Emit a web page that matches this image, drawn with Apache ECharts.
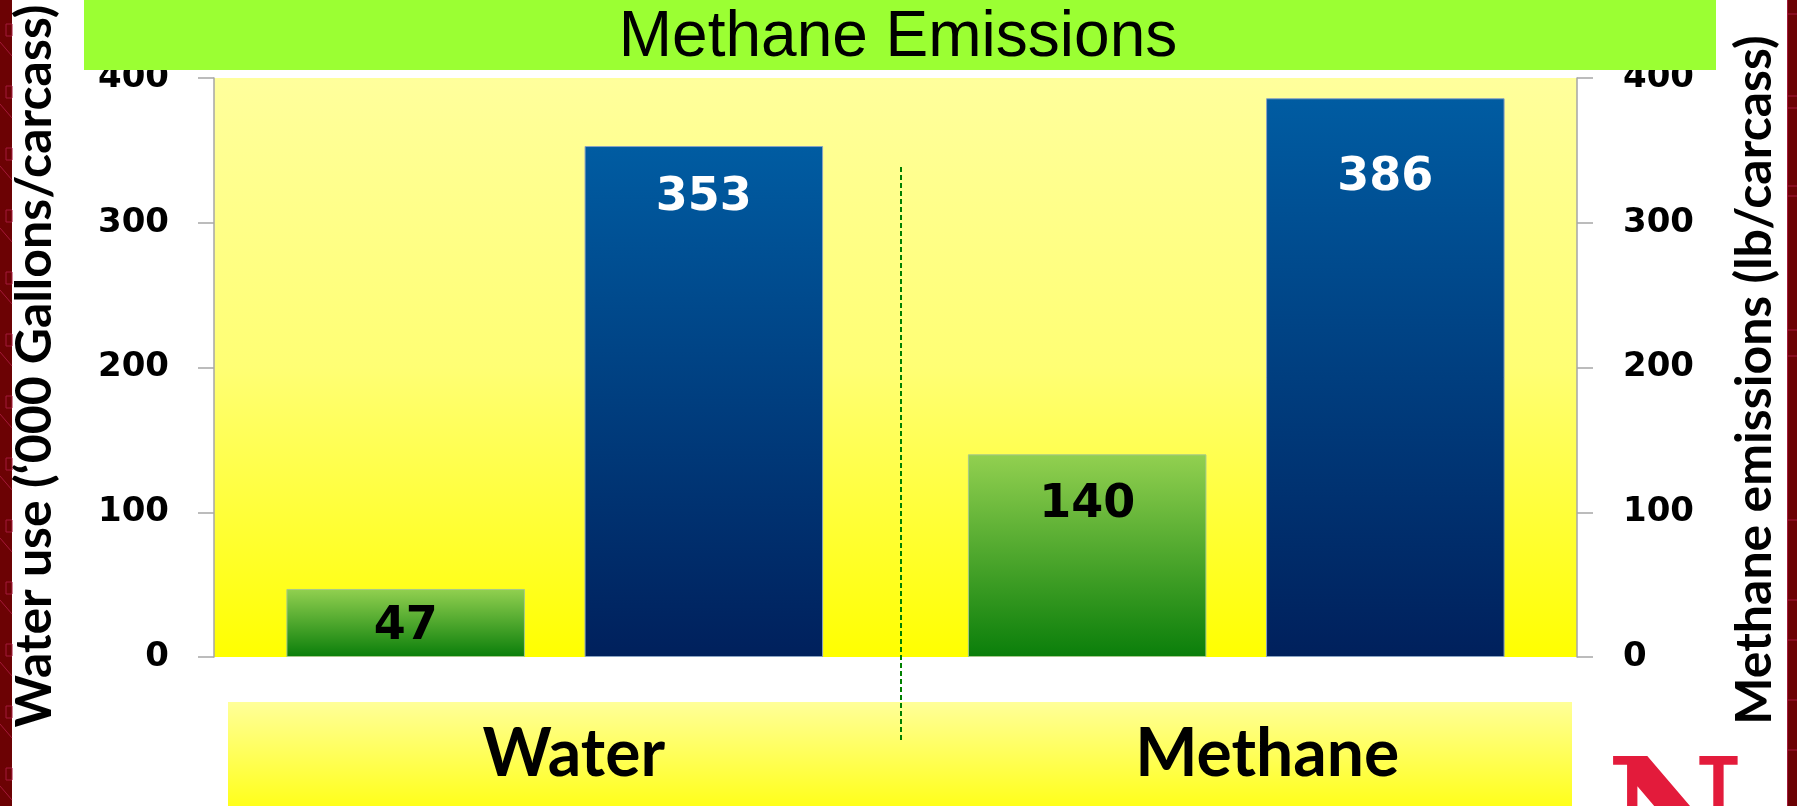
<!DOCTYPE html>
<html>
<head>
<meta charset="utf-8">
<title>Methane Emissions</title>
<script src="https://cdn.jsdelivr.net/npm/echarts@6/dist/echarts.min.js"></script>
<style>
  html, body { margin: 0; padding: 0; background: #ffffff; }
  #chart { width: 1797px; height: 806px; }
</style>
</head>
<body>
<div id="chart"></div>
<script>
// Categories and bar values
const categories = ['Water', 'Methane'];
const greenValues = [47, 140];
const blueValues = [353, 386];

// Shared value scale for both vertical axes
const axisMin = 0;
const axisMax = 400;
const axisStep = 100;

const titleText = 'Methane Emissions';
const leftAxisTitle = 'Water use (\u2018000 Gallons/carcass)';
const rightAxisTitle = 'Methane emissions (lb/carcass)';

const chart = echarts.init(document.getElementById('chart'), null, { renderer: 'canvas' });

const W = 1797, H = 806;
const LG = echarts.graphic.LinearGradient;

// Value label placement inside each bar (null = vertically centred)
const greenLabelInset = [null, 28];
const blueLabelInset = [29, 57];

function withLabels(values, insets) {
  return values.map((v, i) => ({
    value: v,
    label: insets[i] == null
      ? { position: 'inside', offset: [0, 4] }
      : { position: 'insideTop', distance: insets[i] }
  }));
}

const valueFont = {
  fontFamily: 'DejaVu Sans',
  fontWeight: 'bold',
  fontSize: 46,
  lineHeight: 46
};

// Category label styles (each name sits a little right of its slot centre)
const catStyle = {
  fontFamily: 'Lato',
  fontWeight: 'bold',
  fontSize: 66,
  lineHeight: 66,
  color: '#000000'
};

// Decorative maroon side strips
const sideDecor = [];
sideDecor.push({ type: 'rect', shape: { x: 0, y: 0, width: 12, height: H }, style: { fill: '#6c0204' }, z: 20 });
sideDecor.push({ type: 'rect', shape: { x: 1787, y: 0, width: 10, height: H }, style: { fill: '#6c0204' }, z: 20 });
for (let y = -20; y < H; y += 62) {
  sideDecor.push({ type: 'line', shape: { x1: 0, y1: y, x2: 12, y2: y + 14 }, style: { stroke: '#a3193a', lineWidth: 1 }, z: 21 });
  sideDecor.push({ type: 'rect', shape: { x: 6, y: y + 44, width: 6, height: 12 }, style: { fill: 'none', stroke: '#a3193a', lineWidth: 1 }, z: 21 });
}
[14, 96, 108, 186, 196, 330, 356, 520, 600, 640, 700, 750].forEach(y => {
  sideDecor.push({ type: 'line', shape: { x1: 1787, y1: y, x2: 1797, y2: y }, style: { stroke: '#a3193a', lineWidth: 1 }, z: 21 });
});
sideDecor.push({ type: 'line', shape: { x1: 1787.5, y1: 0, x2: 1787.5, y2: H }, style: { stroke: '#a3193a', lineWidth: 1 }, z: 21 });

const option = {
  backgroundColor: '#ffffff',
  animation: false,
  grid: {
    left: 214,
    right: W - 1577,
    top: 78,
    bottom: H - 657,
    show: true,
    borderWidth: 0,
    backgroundColor: new LG(0, 0, 0, 1, [
      { offset: 0, color: '#ffff9c' },
      { offset: 0.5, color: '#ffff74' },
      { offset: 1, color: '#ffff00' }
    ])
  },
  xAxis: {
    type: 'category',
    data: categories,
    axisLine: { show: false },
    axisTick: { show: false },
    splitLine: { show: false },
    axisLabel: {
      margin: 65,
      formatter: (v, i) => (i === 0 ? '{a|' + v + '}' : '{b|' + v + '}'),
      rich: {
        a: Object.assign({ padding: [0, 0, 0, 38] }, catStyle),
        b: Object.assign({ padding: [0, 0, 0, 62] }, catStyle)
      },
      fontFamily: 'Lato',
      fontWeight: 'bold',
      fontSize: 66,
      color: '#000000'
    }
  },
  yAxis: [
    {
      type: 'value',
      position: 'left',
      min: axisMin,
      max: axisMax,
      interval: axisStep,
      axisLine: { show: true, lineStyle: { color: '#a6a6a6', width: 1.5 } },
      axisTick: { show: true, length: 16, lineStyle: { color: '#a6a6a6', width: 1.5 } },
      splitLine: { show: false },
      axisLabel: {
        margin: 45,
        fontFamily: 'DejaVu Sans',
        fontWeight: 'bold',
        fontSize: 34,
        color: '#000000'
      }
    },
    {
      type: 'value',
      position: 'right',
      min: axisMin,
      max: axisMax,
      interval: axisStep,
      axisLine: { show: true, lineStyle: { color: '#a6a6a6', width: 1.5 } },
      axisTick: { show: true, length: 16, lineStyle: { color: '#a6a6a6', width: 1.5 } },
      splitLine: { show: false },
      axisLabel: {
        margin: 46,
        fontFamily: 'DejaVu Sans',
        fontWeight: 'bold',
        fontSize: 34,
        color: '#000000'
      }
    }
  ],
  series: [
    {
      name: 'System A',
      type: 'bar',
      yAxisIndex: 0,
      barWidth: '35%',
      barGap: '25%',
      data: withLabels(greenValues, greenLabelInset),
      itemStyle: {
        color: new LG(0, 0, 0, 1, [
          { offset: 0, color: '#92d050' },
          { offset: 1, color: '#0a7e0a' }
        ]),
        borderColor: '#a6c98a',
        borderWidth: 1
      },
      label: Object.assign({ show: true, color: '#000000' }, valueFont),
      z: 3
    },
    {
      name: 'System B',
      type: 'bar',
      yAxisIndex: 0,
      barWidth: '35%',
      barGap: '25%',
      data: withLabels(blueValues, blueLabelInset),
      itemStyle: {
        color: new LG(0, 0, 0, 1, [
          { offset: 0, color: '#005ca2' },
          { offset: 1, color: '#00205c' }
        ]),
        borderColor: '#8aa3c2',
        borderWidth: 1
      },
      label: Object.assign({ show: true, color: '#ffffff' }, valueFont),
      z: 3
    }
  ],
  graphic: [
    // Title banner
    { type: 'rect', shape: { x: 84, y: 0, width: 1632, height: 70 }, style: { fill: '#9bff33' }, z: 5 },
    {
      type: 'text', x: 898, y: 38, z: 6,
      style: {
        text: titleText, fill: '#000000',
        font: '64px "Liberation Sans", Arial, sans-serif',
        align: 'center', verticalAlign: 'middle'
      }
    },
    // Category band beneath the plot
    {
      type: 'rect', shape: { x: 228, y: 702, width: 1344, height: 110 }, z: -5,
      style: {
        fill: new LG(0, 0, 0, 1, [
          { offset: 0, color: '#ffff99' },
          { offset: 1, color: '#ffff14' }
        ])
      }
    },
    // Divider between the two groups
    {
      type: 'line', z: 10,
      shape: { x1: 901, y1: 167, x2: 901, y2: 740 },
      style: { stroke: '#008000', lineWidth: 2, lineDash: [5, 3] }
    },
    // Axis titles
    {
      type: 'text', x: 35, y: 366, rotation: Math.PI / 2, z: 6,
      style: {
        text: leftAxisTitle, fill: '#000000',
        font: 'bold 50px Lato, sans-serif',
        align: 'center', verticalAlign: 'middle'
      }
    },
    {
      type: 'text', x: 1755, y: 380, rotation: Math.PI / 2, z: 6,
      style: {
        text: rightAxisTitle, fill: '#000000',
        font: 'bold 50px Lato, sans-serif',
        align: 'center', verticalAlign: 'middle'
      }
    },
    // Block N mark
    {
      type: 'text', x: 1675, y: 751, z: 6,
      style: {
        text: 'N', fill: '#e31b3b',
        font: 'bold 150px "DejaVu Serif", serif',
        align: 'center', verticalAlign: 'top'
      }
    }
  ].concat(sideDecor)
};

chart.setOption(option);
</script>
</body>
</html>
